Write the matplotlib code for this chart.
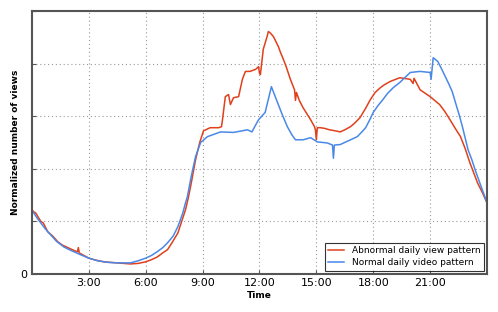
import matplotlib
matplotlib.use("Agg")
import matplotlib.pyplot as plt

# Abnormal daily view pattern (hours, normalized views)
abn_hours = [0.0, 0.1, 0.2, 0.3, 0.47, 0.6, 0.84, 1.1, 1.37, 1.6, 1.9, 2.2, 2.4, 2.45, 2.5, 3.0, 3.4, 3.8, 4.5, 5.2,
             5.6, 6.0, 6.3, 6.6, 6.9, 7.15, 7.4, 7.7, 7.9, 8.1, 8.25, 8.4, 8.63, 8.85, 9.05, 9.4, 9.85, 10.0,
             10.05, 10.2, 10.37, 10.47, 10.63, 10.9, 11.1, 11.26, 11.5, 11.8, 11.95, 12.0, 12.05, 12.2, 12.4,
             12.47, 12.6, 12.74, 12.85, 13.0, 13.1, 13.26, 13.4, 13.63, 13.85, 13.9, 13.95, 14.1, 14.3, 14.7,
             14.9, 14.95, 15.0, 15.05, 15.2, 15.4, 15.7, 16.0, 16.26, 16.5, 16.8, 17.0, 17.3, 17.6, 17.84,
             18.1, 18.37, 18.6, 18.9, 19.4, 19.95, 20.1, 20.15, 20.47, 21.0, 21.5, 21.75, 22.05, 22.3, 22.6,
             22.85, 23.1, 23.3, 23.5, 23.75, 24.0]
abn_values = [1.22, 1.18, 1.16, 1.1, 1.0, 0.97, 0.8, 0.72, 0.61, 0.55, 0.5, 0.45, 0.42, 0.5, 0.4, 0.3, 0.26, 0.23, 0.21, 0.19,
              0.2, 0.23, 0.27, 0.32, 0.4, 0.46, 0.6, 0.78, 1.0, 1.22, 1.45, 1.72, 2.17, 2.5, 2.72, 2.78, 2.78, 2.8,
              2.93, 3.37, 3.41, 3.22, 3.35, 3.37, 3.7, 3.85, 3.85, 3.89, 3.94, 3.82, 3.79, 4.27, 4.51,
              4.61, 4.57, 4.51, 4.43, 4.32, 4.22, 4.08, 3.95, 3.7, 3.5, 3.3, 3.45, 3.3, 3.16, 2.93,
              2.8, 2.74, 2.55, 2.78, 2.78, 2.77, 2.74, 2.72, 2.7, 2.74, 2.8, 2.86, 2.97, 3.15, 3.31,
              3.45, 3.54, 3.6, 3.66, 3.73, 3.7, 3.62, 3.72, 3.5, 3.37, 3.22, 3.1, 2.93, 2.78, 2.61,
              2.38, 2.11, 1.92, 1.73, 1.55, 1.35]

# Normal daily video pattern
norm_hours = [0.0, 0.1, 0.3, 0.47, 0.7, 1.0, 1.3, 1.7, 2.1, 2.6, 3.0, 3.47, 4.0, 4.5, 5.2, 5.6, 6.0, 6.3, 6.6, 6.9,
              7.15, 7.45, 7.7, 7.95, 8.1, 8.2, 8.4, 8.63, 8.9, 9.26, 9.95, 10.63, 11.37, 11.6, 11.95, 12.3,
              12.63, 12.95, 13.2, 13.47, 13.7, 13.9, 14.3, 14.7, 15.05, 15.58, 15.85, 15.9, 15.95, 16.26,
              16.8, 17.16, 17.4, 17.6, 17.8, 18.0, 18.25, 18.5, 18.75, 19.05, 19.4, 19.95, 20.47, 21.0,
              21.05, 21.16, 21.4, 21.6, 21.8, 22.0, 22.16, 22.4, 22.55, 22.7, 22.85, 23.0, 23.2, 23.37,
              23.7, 24.0]
norm_values = [1.2, 1.16, 1.05, 0.97, 0.86, 0.74, 0.62, 0.51, 0.44, 0.36, 0.3, 0.25, 0.22, 0.21, 0.21, 0.25, 0.3,
               0.35, 0.42, 0.5, 0.59, 0.72, 0.9, 1.15, 1.35, 1.47, 1.85, 2.23, 2.5, 2.61, 2.7, 2.69, 2.74,
               2.7, 2.93, 3.07, 3.56, 3.26, 3.03, 2.8, 2.65, 2.55, 2.55, 2.59, 2.51, 2.49, 2.45, 2.2, 2.45,
               2.46, 2.55, 2.61, 2.7, 2.78, 2.92, 3.07, 3.2, 3.31, 3.43, 3.54, 3.64, 3.83, 3.85, 3.83,
               3.7, 4.11, 4.04, 3.9, 3.75, 3.6, 3.47, 3.18, 3.0, 2.8, 2.58, 2.36, 2.17, 1.98,
               1.65, 1.35]

xtick_pos = [3, 6, 9, 12, 15, 18, 21]
xtick_labels = ["3:00", "6:00", "9:00", "12:00", "15:00", "18:00", "21:00"]
ytick_pos = [0, 1, 2, 3, 4, 5]
ytick_labels = ["0", "", "", "", "", ""]

fig = plt.figure(figsize=(4.98, 3.12), dpi=100)
ax = fig.add_axes([0.064, 0.122, 0.914, 0.843])

ax.plot(abn_hours, abn_values, color="#e0401c", lw=1.1, label="Abnormal daily view pattern")
ax.plot(norm_hours, norm_values, color="#4a88e8", lw=1.1, label="Normal daily video pattern")

ax.set_xlim(0, 24)
ax.set_ylim(0, 5)
ax.set_xticks(xtick_pos)
ax.set_xticklabels(xtick_labels, fontsize=8)
ax.set_yticks(ytick_pos)
ax.set_yticklabels(ytick_labels, fontsize=8)
ax.tick_params(direction="in", length=3, color="#555555", pad=3)
ax.grid(True, linestyle=(0, (1, 2.5)), color="#999999", lw=0.8)
for s in ax.spines.values():
    s.set_color("#555555")
    s.set_linewidth(1.5)

ax.set_xlabel("Time", fontsize=6.5, fontweight="bold", labelpad=2)
ax.set_ylabel("Normalized number of views", fontsize=6.5, fontweight="bold", labelpad=0.5)

leg = ax.legend(loc="lower right", fontsize=6.5, frameon=True, fancybox=False,
                edgecolor="black", handlelength=1.8, borderpad=0.4, labelspacing=0.3,
                borderaxespad=0.35)
leg.get_frame().set_linewidth(0.8)

fig.savefig("out.png", dpi=100)
